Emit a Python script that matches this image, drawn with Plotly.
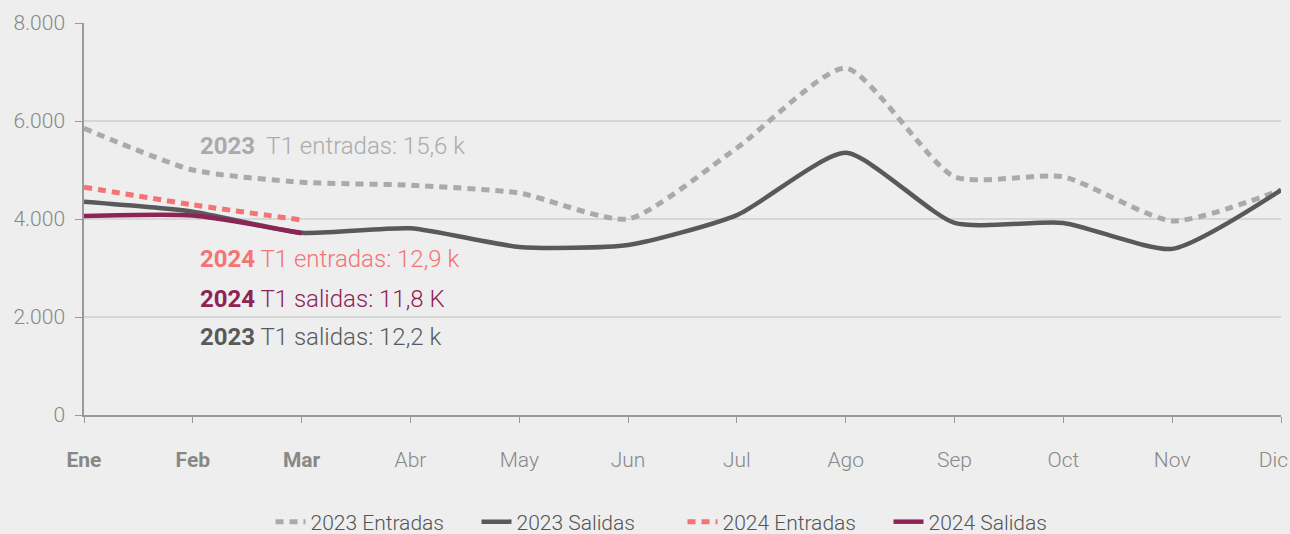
import plotly.graph_objects as go

months = ["Ene", "Feb", "Mar", "Abr", "May", "Jun", "Jul", "Ago", "Sep", "Oct", "Nov", "Dic"]
tick_labels = ["<b>Ene</b>", "<b>Feb</b>", "<b>Mar</b>", "Abr", "May", "Jun", "Jul", "Ago", "Sep", "Oct", "Nov",
               "Dic&nbsp;&nbsp;&nbsp;"]
entradas_2023 = [5850, 5000, 4750, 4690, 4530, 4000, 5450, 7080, 4860, 4860, 3960, 4590]
salidas_2023 = [4350, 4150, 3720, 3810, 3430, 3470, 4080, 5350, 3920, 3920, 3390, 4590]
entradas_2024 = [4650, 4290, 3980]
salidas_2024 = [4060, 4070, 3710]
y_ticks = [0, 2000, 4000, 6000, 8000]

notes = [
    ("<b>2023</b>  T1 entradas: 15,6 k", "#aaaaad", 5490),
    ("<b>2024</b> T1 entradas: 12,9 k", "#f47374", 3184),
    ("<b>2024</b> T1 salidas: 11,8 K", "#8e2356", 2367),
    ("<b>2023</b> T1 salidas: 12,2 k", "#58595b", 1592),
]

x_all = list(range(len(months)))
SM = 0.6

fig = go.Figure()
fig.add_trace(go.Scatter(x=x_all, y=entradas_2023, mode="lines", name="2023 Entradas",
                         line=dict(color="#aaaaad", width=5, dash="8px,6px", shape="spline", smoothing=SM)))
fig.add_trace(go.Scatter(x=x_all, y=salidas_2023, mode="lines", name="2023 Salidas",
                         line=dict(color="#58595b", width=4.5, shape="spline", smoothing=SM)))
fig.add_trace(go.Scatter(x=x_all[:3], y=entradas_2024, mode="lines", name="2024 Entradas",
                         line=dict(color="#f47374", width=5, dash="8px,6px", shape="spline", smoothing=SM)))
fig.add_trace(go.Scatter(x=x_all[:3], y=salidas_2024, mode="lines", name="2024 Salidas",
                         line=dict(color="#8e2356", width=4.5, shape="spline", smoothing=SM)))

for text, color, yv in notes:
    fig.add_annotation(x=1.05, y=yv, xref="x", yref="y", text=text, showarrow=False,
                       xanchor="left", yanchor="middle",
                       font=dict(family="Roboto", size=24, color=color, weight=300))

fig.update_layout(
    width=1290, height=534,
    margin=dict(l=84, r=9, t=23, b=119, autoexpand=False),
    paper_bgcolor="#edeeed", plot_bgcolor="#edeeed",
    separators=",.",
    font=dict(family="Roboto", color="#888888", size=21, weight=300),
    showlegend=True,
    legend=dict(orientation="h", x=0.5, xanchor="center", y=-0.273, yanchor="middle",
                font=dict(size=21, color="#555555", weight=300), itemwidth=30,
                entrywidth=161, entrywidthmode="pixels", tracegroupgap=0),
    xaxis=dict(range=[0, 11], tickmode="array", tickvals=x_all, ticktext=tick_labels,
               showgrid=False, zeroline=False, showline=True, linecolor="#999999", linewidth=1.5,
               ticks="outside", ticklen=6, tickcolor="#999999", ticklabelstandoff=19,
               ticklabeloverflow="allow",
               tickfont=dict(size=21, color="#888888", weight=300)),
    yaxis=dict(range=[0, 8000], tickmode="array", tickvals=y_ticks, tickformat=",d",
               showgrid=True, gridcolor="#d6d6d6", gridwidth=1.5, zeroline=False,
               showline=True, linecolor="#999999", linewidth=1.5,
               ticks="outside", ticklen=7, tickcolor="#999999", ticklabelstandoff=6,
               tickfont=dict(size=21, color="#888888", weight=300)),
)

fig.write_html("out.html", config={"displayModeBar": False},
               post_script="document.body.style.margin='0';")
